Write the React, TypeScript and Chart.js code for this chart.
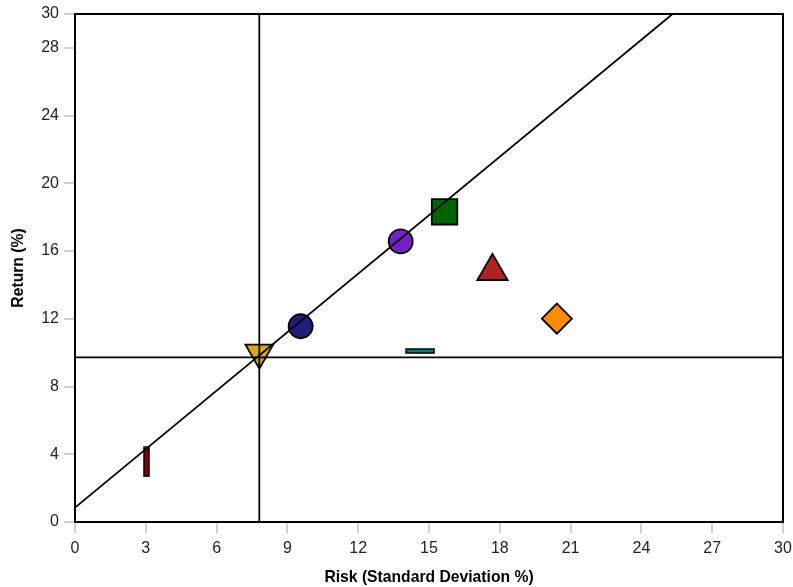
import React, { useEffect, useRef } from "react";
import { Chart, registerables } from "chart.js";

Chart.register(...registerables);

// Portfolio points: [risk, return]
const barRedPt = [{ x: 3.03, y: 3.55 }];
const tealPt = [{ x: 14.63, y: 10.1 }];
const goldPt = [{ x: 7.81, y: 10.0 }];
const navyPt = [{ x: 9.56, y: 11.56 }];
const purplePt = [{ x: 13.8, y: 16.57 }];
const greenPt = [{ x: 15.66, y: 18.32 }];
const redTriPt = [{ x: 17.69, y: 14.8 }];
const orangePt = [{ x: 20.42, y: 12.01 }];

// Lines
const cmlLine = [{ x: 0, y: 0.85 }, { x: 25.32, y: 30 }];
const vLine = [{ x: 7.81, y: 0 }, { x: 7.81, y: 30 }];
const hLine = [{ x: 0, y: 9.72 }, { x: 30, y: 9.72 }];

const xTickStep = 3;
const yTickStep = 4;
const axisMin = 0;
const axisMax = 30;

function makeBar(w: number, h: number, fill: string): HTMLCanvasElement {
  const c = document.createElement("canvas");
  c.width = w + 2;
  c.height = h + 2;
  const ctx = c.getContext("2d")!;
  ctx.fillStyle = fill;
  ctx.strokeStyle = "#000";
  ctx.lineWidth = 1.5;
  ctx.fillRect(1, 1, w, h);
  ctx.strokeRect(1, 1, w, h);
  return c;
}

export default function App() {
  const ref = useRef<HTMLCanvasElement>(null);
  useEffect(() => {
    const vBar = makeBar(5, 29, "#8b0000");
    const hBar = makeBar(28, 4, "#008080");
    const frame = {
      id: "frame",
      afterDatasetsDraw(chart: any) {
        const { ctx, chartArea: a } = chart;
        ctx.save();
        ctx.strokeStyle = "#000";
        ctx.lineWidth = 2;
        ctx.strokeRect(a.left, a.top, a.right - a.left, a.bottom - a.top);
        ctx.restore();
      },
    };
    const pt = (data: any, style: any, color: string, radius: number, extra: any = {}) => ({
      type: "scatter",
      data,
      pointStyle: style,
      backgroundColor: color,
      borderColor: "#000",
      borderWidth: 1.8,
      pointRadius: radius,
      pointHoverRadius: radius,
      order: 2,
      ...extra,
    });
    const ln = (data: any) => ({
      type: "scatter",
      data,
      showLine: true,
      borderColor: "#000",
      borderWidth: 1.8,
      pointRadius: 0,
      fill: false,
      order: 1,
    });
    const chart = new Chart(ref.current!, {
      type: "scatter",
      data: {
        datasets: [
          pt(barRedPt, vBar, "#8b0000", 5),
          pt(tealPt, hBar, "#008080", 5),
          pt(goldPt, "triangle", "#daa520", 16, { rotation: 180 }),
          pt(navyPt, "circle", "#1f1f7a", 12),
          pt(purplePt, "circle", "#7320c8", 12),
          pt(greenPt, "rect", "#006400", 18),
          pt(redTriPt, "triangle", "#b22222", 17.5),
          pt(orangePt, "rectRot", "#ff8c00", 15),
          ln(cmlLine),
          ln(vLine),
          ln(hLine),
        ] as any,
      },
      options: {
        animation: false,
        responsive: true,
        maintainAspectRatio: false,
        layout: { autoPadding: false, padding: { top: 14, right: 10, bottom: 0, left: 0 } },
        plugins: { legend: { display: false }, tooltip: { enabled: false } },
        scales: {
          x: {
            type: "linear",
            min: axisMin,
            max: axisMax,
            afterFit: (s: any) => { s.height = 65; s.paddingRight = 0; s.paddingLeft = 0; },
            border: { display: false },
            grid: { drawOnChartArea: false, color: "#d0d0d0", lineWidth: 2, tickLength: 11 },
            ticks: { stepSize: xTickStep, padding: 6, color: "#222", font: { family: "'Liberation Sans', Arial, sans-serif", size: 16 } },
            title: {
              display: true,
              text: "Risk (Standard Deviation %)",
              color: "#000",
              font: { family: "'Liberation Sans', Arial, sans-serif", size: 15.7, weight: "bold" },
              padding: { top: 2, bottom: 0 },
            },
          },
          y: {
            type: "linear",
            min: axisMin,
            max: axisMax,
            afterFit: (s: any) => { s.width = 75; s.paddingTop = 0; s.paddingBottom = 0; },
            border: { display: false },
            grid: { drawOnChartArea: false, color: "#d0d0d0", lineWidth: 2, tickLength: 11 },
            ticks: { stepSize: yTickStep, padding: 5, color: "#222", font: { family: "'Liberation Sans', Arial, sans-serif", size: 16 } },
            title: {
              display: true,
              text: "Return (%)",
              color: "#000",
              font: { family: "'Liberation Sans', Arial, sans-serif", size: 15.7, weight: "bold" },
              padding: { top: 9, bottom: 0 },
            },
          },
        },
      } as any,
      plugins: [frame],
    });
    return () => chart.destroy();
  }, []);
  return (
    <div style={{ position: "absolute", left: 0, top: 0, width: 793, height: 587 }}>
      <canvas ref={ref} />
    </div>
  );
}
